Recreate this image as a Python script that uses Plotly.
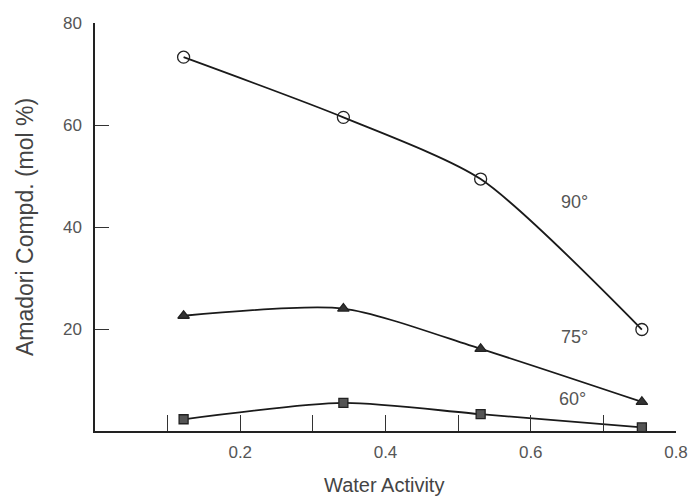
import plotly.graph_objects as go

aw = [0.122, 0.342, 0.531, 0.753]
y90 = [73.3, 61.5, 49.4, 19.9]
y75 = [22.6, 24.0, 16.1, 5.7]
y60 = [2.3, 5.5, 3.3, 0.7]
series_labels = ["90°", "75°", "60°"]
label_pos = [(0.660, 45.0), (0.660, 18.5), (0.658, 6.3)]

x_tickvals = [0.1, 0.2, 0.3, 0.4, 0.5, 0.6, 0.7, 0.8]
x_ticktext = ["", "0.2", "", "0.4", "", "0.6", "", "0.8"]
y_tickvals = [20, 40, 60, 80]

FONT = "Liberation Sans"
L, R, T, B = 95, 676, 23, 431

fig = go.Figure()
specs = [(y90, "circle-open", 12, "#222"), (y75, "triangle-up", 10, "#333"), (y60, "square", 9, "#555")]
for ys, sym, sz, col in specs:
    fig.add_trace(go.Scatter(
        x=aw, y=ys, mode="lines+markers",
        line=dict(color="#1a1a1a", width=1.8, shape="spline", smoothing=0.7),
        marker=dict(symbol=sym, size=sz, color=col,
                    line=dict(color="#222", width=1.3)),
        showlegend=False))

for txt, (lx, ly) in zip(series_labels, label_pos):
    fig.add_annotation(x=lx, y=ly, text=txt, showarrow=False,
                       font=dict(size=18, color="#555", family=FONT))

fig.add_annotation(xref="paper", yref="paper",
                   x=(384 - L) / (R - L), y=-(485 - B) / (B - T),
                   text="Water Activity", showarrow=False, yanchor="middle",
                   font=dict(size=20, color="#444", family=FONT))
fig.add_annotation(xref="paper", yref="paper",
                   x=-(L - 25) / (R - L), y=(B - 227) / (B - T),
                   text="Amadori Compd. (mol %)", showarrow=False, textangle=-90,
                   xanchor="center", yanchor="middle",
                   font=dict(size=23, color="#444", family=FONT))

fig.update_layout(
    width=688, height=498,
    margin=dict(l=L, r=688 - R, t=T, b=498 - B),
    paper_bgcolor="white", plot_bgcolor="white",
    font=dict(family=FONT, color="#555", size=17),
    xaxis=dict(range=[0, 0.8], tickvals=x_tickvals, ticktext=x_ticktext,
               ticks="inside", ticklen=16, tickcolor="#333", tickwidth=1,
               showline=True, linecolor="#222", linewidth=1.5,
               showgrid=False, zeroline=False, ticklabelstandoff=5,
               automargin=False,
               tickfont=dict(size=17, color="#555")),
    yaxis=dict(range=[0, 80], tickvals=y_tickvals,
               ticks="inside", ticklen=14, tickcolor="#333", tickwidth=1,
               showline=True, linecolor="#222", linewidth=1.5,
               showgrid=False, zeroline=False, ticklabelstandoff=8,
               automargin=False,
               tickfont=dict(size=17, color="#555")),
)

fig.write_html("out.html",
               config={"displayModeBar": False},
               post_script="document.body.style.margin='0';document.body.style.overflow='hidden';")
